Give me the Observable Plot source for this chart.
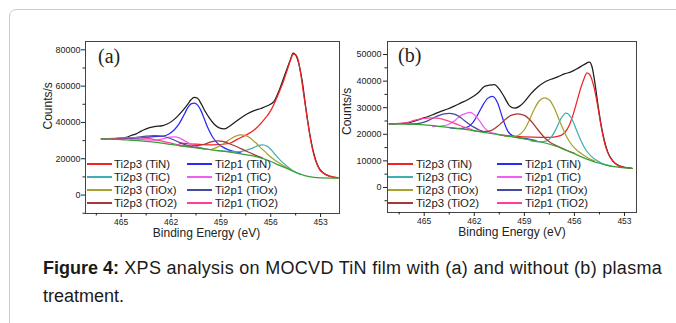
<!DOCTYPE html>
<html><head><meta charset="utf-8">
<script src="https://cdn.jsdelivr.net/npm/d3@7"></script>
<script src="https://cdn.jsdelivr.net/npm/@observablehq/plot@0.6"></script>
<style>
html,body{margin:0;padding:0;background:#fff;}
#page{position:relative;width:676px;height:323px;overflow:hidden;font-family:"Liberation Sans",Arial,sans-serif;color:#222;}
#border{position:absolute;left:9px;top:9px;width:720px;height:400px;border:1.5px solid #cbcbcb;border-radius:7px;}
.panel{position:absolute;top:0;}
.legline{position:absolute;width:25px;height:1.6px;}
.legtext{position:absolute;font-size:11.4px;line-height:13px;white-space:nowrap;color:#222;}
.letter{position:absolute;font-family:"Liberation Serif","Times New Roman",serif;font-size:20px;line-height:20px;color:#222;}
#caption{position:absolute;left:43px;top:254px;font-size:18px;line-height:28px;color:#1a1a1a;white-space:nowrap;}
#caption .reg{letter-spacing:0.3px;}
</style></head>
<body><div id="page"><div id="border"></div></div>
<script>
// ---------- series / labels ----------
const seriesNames = ["Ti2p3 (TiN)", "Ti2p1 (TiN)", "Ti2p3 (TiC)", "Ti2p1 (TiC)", "Ti2p3 (TiOx)", "Ti2p1 (TiOx)", "Ti2p3 (TiO2)", "Ti2p1 (TiO2)"];
const seriesColors = ["#f02424", "#2b2bf5", "#3fb0b0", "#f45cf4", "#a9a033", "#4848a0", "#a83838", "#ff3f96"];
const envelopeColor = "#1e1e1e";
const backgroundColor = "#35a035";
const xTicks = [465, 462, 459, 456, 453];
const xMinorTicks = [466.5, 463.5, 460.5, 457.5, 454.5];
const yTicksA = [0, 20000, 40000, 60000, 80000];
const yMinorA = [-10000, 10000, 30000, 50000, 70000];
const yTicksB = [0, 10000, 20000, 30000, 40000, 50000];
const yMinorB = [-5000, 5000, 15000, 25000, 35000, 45000];
const xLabel = "Binding Energy (eV)";
const yLabel = "Counts/s";
const panelLetters = ["(a)", "(b)"];

// ---------- panel (a): [binding energy eV, counts/s] ----------
const aEnvelope = [[466.2,30900],[465.5,31000],[465.0,31300],[464.7,31800],[464.4,32800],[464.1,33700],[463.8,35200],[463.5,36500],[463.0,37700],[462.5,38300],[462.2,39300],[461.9,41000],[461.6,43500],[461.3,46500],[461.0,50000],[460.8,52500],[460.6,53800],[460.4,53300],[460.2,50500],[460.0,47000],[459.7,42500],[459.4,39000],[459.1,37000],[458.8,36400],[458.5,37800],[458.2,39800],[457.8,42500],[457.4,44800],[457.0,46500],[456.6,47700],[456.2,49200],[455.8,51600],[455.5,57500],[455.2,65000],[455.0,70000],[454.8,75000],[454.65,78200],[454.5,77200],[454.3,72000],[454.1,62500],[453.9,49000],[453.7,36500],[453.5,26500],[453.3,19500],[453.1,15000],[452.9,12700],[452.5,10500],[451.95,9500]];
const aBackground = [[466.2,30900],[465,30600],[464,30000],[463,29100],[462,27900],[461,26600],[460,25400],[459,24300],[458,23000],[457,21400],[456.5,20200],[456,18500],[455.5,16500],[455,14600],[454.5,12600],[454,10900],[453.5,9900],[453,9500],[451.95,9400]];
const aTiN3 = [[461.5,28600],[460.5,28000],[459.5,27600],[458.5,28400],[458,30800],[457.5,33000],[457,35800],[456.5,40500],[456,46500],[455.5,56500],[455.2,63500],[455,69000],[454.8,74500],[454.65,77600],[454.5,77300],[454.35,74500],[454.2,67000],[454,54500],[453.8,42000],[453.6,30500],[453.4,22000],[453.2,16500],[453,13300],[452.6,11000],[452.2,9900],[451.95,9600]];
const aTiN1 = [[464.5,31000],[464,31300],[463.5,31800],[463,32200],[462.5,32400],[462.1,33800],[461.8,36000],[461.5,39500],[461.2,44500],[461,48000],[460.8,50200],[460.6,50700],[460.4,49500],[460.2,46500],[460,42000],[459.8,37300],[459.5,32000],[459.2,28500],[458.8,26000],[458.3,24200],[457.8,23300]];
const aTiC3 = [[459.2,24500],[458.6,24000],[458,23800],[457.6,24300],[457.3,25200],[457,26300],[456.8,27100],[456.5,27600],[456.2,26800],[456,25200],[455.7,22000],[455.4,19000],[455,15800],[454.6,13000],[454.2,11300]];
const aTiC1 = [[464.5,30900],[463.5,30400],[463,30300],[462.5,31000],[462.1,31900],[461.8,32100],[461.5,31500],[461.2,30000],[460.8,28000],[460.3,26300],[459.8,25200]];
const aTiOx3 = [[459.6,25000],[459.3,26000],[459,27300],[458.7,29200],[458.4,31000],[458.1,32500],[457.8,33100],[457.5,32800],[457.2,31200],[456.9,28800],[456.6,26000],[456.3,23500],[456,21000],[455.6,18300],[455.2,16000],[454.8,14000]];
const aTiOx1 = [[465.5,30700],[465,30900],[464.5,31300],[464,31900],[463.5,32500],[463,32800],[462.5,32400],[462,31000],[461.5,29000],[461,27300],[460.5,26200],[460,25500]];
const aTiO2_3 = [[461.5,27300],[461,27000],[460.5,27200],[460,28000],[459.6,29300],[459.2,29900],[458.9,29600],[458.5,28300],[458,26500],[457.5,24300],[457,22300],[456.5,20500]];
const aTiO2_1 = [[466.2,30900],[465.5,31200],[465,31500],[464.5,31700],[464,31700],[463.5,31300],[463,30600],[462.5,29600],[462,28600],[461.5,27600],[461,26800]];

// ---------- panel (b) ----------
const bEnvelope = [[467.1,23900],[466.5,24000],[466,24300],[465.6,24900],[465.2,25800],[464.8,26600],[464.4,27600],[464,28600],[463.6,29500],[463.2,30600],[462.8,31800],[462.4,33000],[462,34500],[461.7,36000],[461.4,38000],[461.1,38500],[460.8,38700],[460.5,37000],[460.2,34000],[459.9,30800],[459.6,29800],[459.3,30500],[459,32200],[458.6,35300],[458.2,37800],[457.8,39600],[457.4,40700],[457,41600],[456.6,42700],[456.2,43500],[455.8,44800],[455.4,46300],[455.1,47100],[454.95,45500],[454.8,40500],[454.6,31500],[454.4,23500],[454.2,17500],[454,13300],[453.7,10000],[453.4,8400],[453,7600],[452.55,7150]];
const bBackground = [[467.1,23900],[466,23800],[465,23500],[464,22900],[463,22200],[462,21300],[461,20300],[460,19300],[459,18300],[458,17100],[457,15300],[456.5,14000],[456,12700],[455.5,11300],[455,10100],[454.5,9100],[454,8300],[453.5,7700],[453,7350],[452.55,7150]];
const bTiN3 = [[460.5,19800],[459.5,19200],[458.5,18900],[457.5,18800],[457,19200],[456.6,20500],[456.3,23500],[456,29000],[455.8,33500],[455.6,37800],[455.4,41300],[455.25,43100],[455.1,42600],[454.95,40500],[454.8,37000],[454.6,30500],[454.4,23000],[454.2,17000],[454,13000],[453.7,9900],[453.4,8300],[453,7550],[452.55,7150]];
const bTiN1 = [[463.5,22500],[463,22100],[462.5,22500],[462.1,24300],[461.8,27300],[461.5,30800],[461.2,33500],[460.9,34300],[460.6,31800],[460.3,26000],[460,21300],[459.7,19400],[459.3,18700],[458.8,18300],[458.3,17600]];
const bTiC3 = [[458.6,17500],[458,17100],[457.7,17400],[457.4,18800],[457.1,22000],[456.8,26000],[456.5,28000],[456.2,26300],[455.9,22000],[455.6,17500],[455.3,14000],[455,11800],[454.6,9900],[454.2,8700],[453.8,8000]];
const bTiC1 = [[464.5,22900],[464,23100],[463.6,23600],[463.2,25000],[462.8,27100],[462.5,27900],[462.25,28200],[462,27400],[461.7,25200],[461.4,22500],[461.1,20900],[460.7,20200],[460.2,19500]];
const bTiOx3 = [[460.2,19300],[459.6,19200],[459.3,19800],[459,21700],[458.7,25300],[458.4,29500],[458.1,32600],[457.8,33700],[457.5,32900],[457.2,29800],[456.9,25200],[456.6,20800],[456.3,17300],[456,14900],[455.6,12800],[455.2,11200],[454.8,10000]];
const bTiOx1 = [[466,23800],[465.4,24000],[465,24600],[464.7,25300],[464.4,26300],[464.1,27100],[463.8,27700],[463.5,27900],[463.2,27600],[462.9,26700],[462.6,25200],[462.3,23800],[462,22600],[461.7,21600],[461.3,20800]];
const bTiO2_3 = [[462,21300],[461.5,21000],[461,21400],[460.6,23000],[460.2,25300],[459.8,27100],[459.4,27700],[459,27100],[458.6,25000],[458.2,21800],[457.8,18800],[457.4,16700],[457,15500],[456.5,14100],[456,12800]];
const bTiO2_1 = [[467,23900],[466.5,24100],[466,24500],[465.6,25200],[465.2,25800],[464.8,26100],[464.5,26200],[464.1,26000],[463.7,25300],[463.3,24400],[462.9,23400],[462.5,22500],[462.1,21700]];

const panelA = [aTiN3, aTiN1, aTiC3, aTiC1, aTiOx3, aTiOx1, aTiO2_3, aTiO2_1];
const panelB = [bTiN3, bTiN1, bTiC3, bTiC1, bTiOx3, bTiOx1, bTiO2_3, bTiO2_1];

function buildPanel(cfg) {
  const rows = [];
  cfg.components.forEach((arr, i) => arr.forEach(([E, v]) => rows.push({E, v, s: seriesNames[i]})));
  const lineOpts = {x: "0", y: "1", curve: "monotone-x", strokeWidth: 1.25};
  return Plot.plot({
    width: cfg.width, height: cfg.height,
    marginLeft: cfg.mL, marginRight: cfg.mR, marginTop: cfg.mT, marginBottom: cfg.mB,
    x: {domain: cfg.xDomain},
    y: {domain: cfg.yDomain},
    color: {domain: seriesNames, range: seriesColors},
    style: {fontFamily: "Liberation Sans, Arial, sans-serif", color: "#222", background: "transparent", overflow: "visible"},
    marks: [
      Plot.line(cfg.envelope, {...lineOpts, stroke: envelopeColor}),
      Plot.line(rows, {x: "E", y: "v", z: "s", stroke: "s", curve: "monotone-x", strokeWidth: 1.25}),
      Plot.line(cfg.background, {...lineOpts, stroke: backgroundColor}),
      Plot.frame({stroke: "#444", strokeWidth: 1}),
      Plot.axisX({ticks: xTicks, tickSize: 4, tickPadding: 1, fontSize: 8.5, tickFormat: d => String(d), label: null}),
      Plot.axisX({ticks: xMinorTicks, tickSize: 2.5, tickFormat: () => "", label: null}),
      Plot.axisY({ticks: cfg.yTicks, tickSize: 4, tickPadding: cfg.yPad, fontSize: 9, tickFormat: d => String(d), label: null}),
      Plot.axisY({ticks: cfg.yMinor, tickSize: 2.5, tickFormat: () => "", label: null}),
      Plot.text([xLabel], {frameAnchor: "bottom", dx: cfg.xLabDx, dy: cfg.xLabDy, fontSize: 12, fill: "#222"}),
      Plot.text([yLabel], {frameAnchor: "left", rotate: -90, dx: cfg.yLabDx, dy: cfg.yLabDy, fontSize: 12, fill: "#222"})
    ]
  });
}

const page = document.getElementById("page");

const svgA = buildPanel({
  width: 345, height: 245, mL: 85, mR: 6, mT: 41, mB: 32,
  xDomain: [467.15, 451.86], yDomain: [-10150, 84580],
  envelope: aEnvelope, background: aBackground, components: panelA,
  yTicks: yTicksA, yMinor: yMinorA, yPad: 1,
  xLabDx: -6, xLabDy: 23.5, yLabDx: -37, yLabDy: 2
});
svgA.classList.add("panel"); svgA.style.left = "0px";
page.appendChild(svgA);

const svgB = buildPanel({
  width: 336, height: 245, mL: 47, mR: 40, mT: 41, mB: 33,
  xDomain: [467.2, 452.28], yDomain: [-9420, 54900],
  envelope: bEnvelope, background: bBackground, components: panelB,
  yTicks: yTicksB, yMinor: yMinorB, yPad: 2,
  xLabDx: 0, xLabDy: 23, yLabDx: -40, yLabDy: 8
});
svgB.classList.add("panel"); svgB.style.left = "340px";
page.appendChild(svgB);

// legends (inside each frame)
const legendLayouts = [
  {col1Line: 87, col2Line: 187, col1Text: 114, col2Text: 215},
  {col1Line: 388, col2Line: 497, col1Text: 416, col2Text: 525}
];
const legendRowY = [164, 177, 190, 203];
legendLayouts.forEach(L => {
  seriesNames.forEach((name, i) => {
    const row = Math.floor(i / 2), col = i % 2;
    const y = legendRowY[row];
    const ln = document.createElement("div");
    ln.className = "legline";
    ln.style.left = (col ? L.col2Line : L.col1Line) + "px";
    ln.style.top = (y - 1) + "px";
    ln.style.background = seriesColors[i];
    page.appendChild(ln);
    const tx = document.createElement("div");
    tx.className = "legtext";
    tx.style.left = (col ? L.col2Text : L.col1Text) + "px";
    tx.style.top = (y - 6.5) + "px";
    tx.textContent = name;
    page.appendChild(tx);
  });
});

// panel letters
[[98, 46], [398, 45]].forEach(([l, t], i) => {
  const d = document.createElement("div");
  d.className = "letter";
  d.style.left = l + "px"; d.style.top = t + "px";
  d.textContent = panelLetters[i];
  page.appendChild(d);
});

// caption
const cap = document.createElement("div");
cap.id = "caption";
cap.innerHTML = "<b>Figure 4:</b><span class=\"reg\"> XPS analysis on MOCVD TiN film with (a) and without (b) plasma</span><br>treatment.";
page.appendChild(cap);
</script>
</body></html>
